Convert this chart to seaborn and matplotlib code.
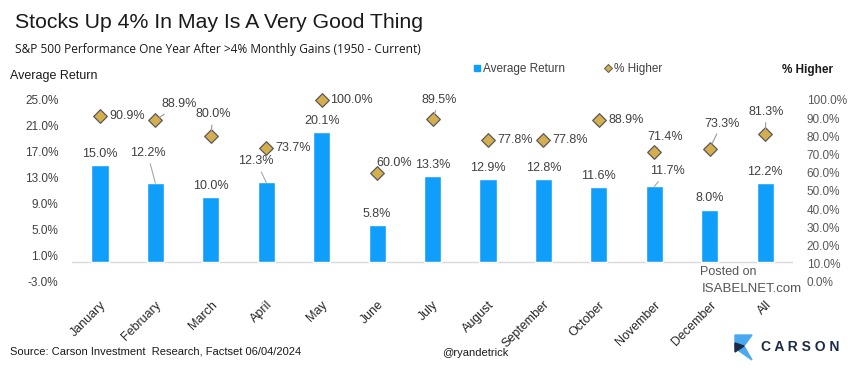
import numpy as np
import pandas as pd
import matplotlib.pyplot as plt
import seaborn as sns
from matplotlib.lines import Line2D
from matplotlib.patches import Polygon

months = ['January', 'February', 'March', 'April', 'May', 'June', 'July',
          'August', 'September', 'October', 'November', 'December', 'All']
avg_return = [15.0, 12.2, 10.0, 12.3, 20.1, 5.8, 13.3, 12.9, 12.8, 11.6, 11.7, 8.0, 12.2]
pct_higher = [90.9, 88.9, 80.0, 73.7, 100.0, 60.0, 89.5, 77.8, 77.8, 88.9, 71.4, 73.3, 81.3]

# label placement (pixel offsets of label centre from the mark), leader line on/off
bar_off = [(0, 11), (-8, 30), (0, 11), (-10, 21), (0, 11), (0, 11), (0, 11),
           (0, 11), (0, 11), (0, 11), (13, 15), (0, 12), (0, 11)]
bar_lead = [False, True, False, True, False, False, False, False, False, False, True, False, False]
dia_off = [(27, 0), (24, 16), (2, 22), (27, 0), (30, 0), (17, 10), (7, 19),
           (27, 0), (27, 0), (27, 0), (11, 15), (12, 25), (1, 22)]
dia_lead = [False, True, True, False, False, False, True, False, False, False, True, True, True]

BLUE = '#0f9ffa'
GOLD = '#d4ae4f'
TXT = '#404040'

sns.set_style('white')
plt.rcParams['font.family'] = ['Liberation Sans', 'DejaVu Sans']

df = pd.DataFrame({'month': months, 'ret': avg_return, 'higher': pct_higher})

fig = plt.figure(figsize=(8.6, 3.7), dpi=100)
ax = fig.add_axes([0.084, 0.238, 0.838, 0.492])
sns.barplot(data=df, x='month', y='ret', color=BLUE, saturation=1, width=0.31, ax=ax)
ax.set_xlim(-0.5, len(months) - 0.5)
ax.set_ylim(-3, 25)
ax.set_yticks(np.arange(-3, 26, 4))
ax.set_yticklabels([f'{v:.1f}%' for v in np.arange(-3, 26, 4)], fontsize=8.5, color=TXT)
ax.axhline(0, color='#d9d9d9', lw=1, zorder=0)
ax.set_xlabel('')
ax.set_ylabel('')
ax.tick_params(axis='y', length=0, pad=10)
ax.tick_params(axis='x', length=0, pad=12)
for lab in ax.get_xticklabels():
    lab.set_rotation(45)
    lab.set_ha('right')
    lab.set_rotation_mode('anchor')
    lab.set_fontsize(9)
    lab.set_color('#262626')
for s in ax.spines.values():
    s.set_visible(False)

ax2 = ax.twinx()
x = np.arange(len(months))
sns.scatterplot(x=x, y=pct_higher, marker='D', s=48, color=GOLD, edgecolor='#5a5a5a',
                linewidth=0.9, ax=ax2, zorder=5, clip_on=False)
ax2.set_ylim(0, 100)
ax2.set_yticks(np.arange(0, 101, 10))
ax2.set_yticklabels([f'{v:.1f}%' for v in np.arange(0, 101, 10)], fontsize=8.5, color='#595959')
ax2.tick_params(axis='y', length=0, pad=10)
for s in ax2.spines.values():
    s.set_visible(False)

for i, v in enumerate(avg_return):
    ap = dict(arrowstyle='-', color='#a6a6a6', lw=0.8, shrinkA=1, shrinkB=0) if bar_lead[i] else None
    ax.annotate(f'{v:.1f}%', (i, v), xytext=bar_off[i], textcoords='offset pixels',
                ha='center', va='center', fontsize=9, color=TXT, arrowprops=ap)

for i, v in enumerate(pct_higher):
    ap = dict(arrowstyle='-', color='#999999', lw=0.8, shrinkA=1, shrinkB=3.5) if dia_lead[i] else None
    ax2.annotate(f'{v:.1f}%', (i, v), xytext=dia_off[i], textcoords='offset pixels',
                 ha='center', va='center', fontsize=9, color=TXT, arrowprops=ap, zorder=6)

# titles
fig.text(15 / 860, 1 - 22 / 370, 'Stocks Up 4% In May Is A Very Good Thing',
         fontsize=15.3, color='#1a1a1a', va='center')
fig.text(15 / 860, 1 - 50 / 370,
         'S&P 500 Performance One Year After >4% Monthly Gains (1950 - Current)',
         fontsize=8.6, color='#1a1a1a', va='center', family=['Open Sans', 'DejaVu Sans'])
fig.text(10 / 860, 1 - 76 / 370, 'Average Return', fontsize=9, color='#1a1a1a', va='center')
fig.text(807 / 860, 1 - 70 / 370, '% Higher', fontsize=8.5, color='#1a1a1a',
         va='center', ha='center', fontweight='semibold')

handles = [Line2D([], [], marker='s', ls='', color=BLUE, markersize=5),
           Line2D([], [], marker='D', ls='', color=GOLD, markeredgecolor='#5a5a5a',
                  markeredgewidth=0.7, markersize=4.5)]
fig.legend(handles, ['Average Return', '% Higher'], loc='center left',
           bbox_to_anchor=(462 / 860, 1 - 69 / 370), ncol=2, frameon=False,
           fontsize=8.5, handletextpad=0.1, columnspacing=3.2, handlelength=0.8,
           labelcolor=TXT)

# footer
fig.text(10 / 860, 1 - 352 / 370, 'Source: Carson Investment  Research, Factset 06/04/2024',
         fontsize=8, color='#1a1a1a', va='center')
fig.text(475 / 860, 1 - 353 / 370, '@ryandetrick', fontsize=8, color='#1a1a1a',
         va='center', ha='center')
fig.text(728 / 860, 1 - 272 / 370, 'Posted on', fontsize=9, color='#555555', va='center', ha='center')
fig.text(702 / 860, 1 - 289 / 370, 'ISABELNET.com', fontsize=9.5, color='#555555', va='center')
fig.text(761 / 860, 1 - 347 / 370, 'C A R S O N', fontsize=10, color='#1c2b45',
         va='center', fontweight='bold')
fig.patches.append(Polygon([(735 / 860, 1 - 335 / 370), (752 / 860, 1 - 335 / 370),
                            (744 / 860, 1 - 346 / 370), (752 / 860, 1 - 360 / 370),
                            (735 / 860, 1 - 348 / 370)], closed=True,
                           transform=fig.transFigure, color='#4aa8f0'))
fig.patches.append(Polygon([(735 / 860, 1 - 343 / 370), (744 / 860, 1 - 346 / 370),
                            (735 / 860, 1 - 352 / 370)], closed=True,
                           transform=fig.transFigure, color='#1c2b45'))

fig.savefig('out.png', dpi=100)
